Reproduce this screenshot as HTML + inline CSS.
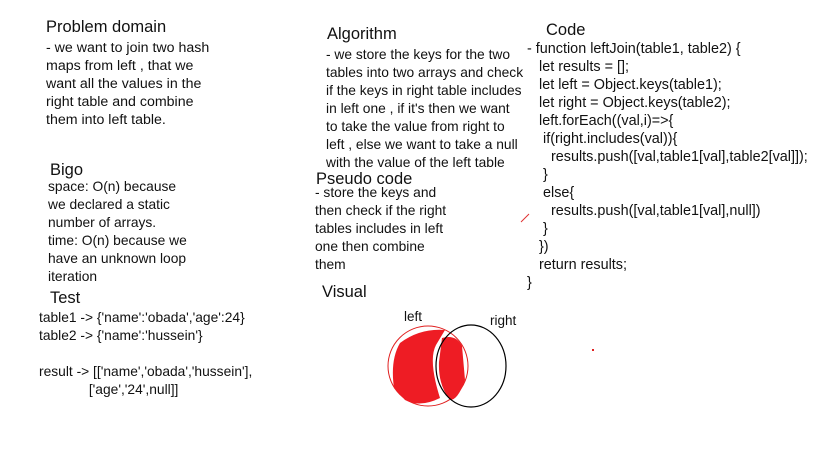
<!DOCTYPE html>
<html><head><meta charset="utf-8"><style>
body{margin:0;width:819px;height:460px;background:#fff;overflow:hidden;position:relative;font-family:"Liberation Sans",sans-serif;color:#111}
.t{position:absolute;white-space:pre;font-size:13.8px;line-height:18px}
.h{position:absolute;white-space:pre;font-size:16.5px;line-height:20px}
</style></head><body>
<div class="h" style="left:46px;top:17px">Problem domain</div>
<div class="t" style="left:46px;top:39px;font-size:14.2px">- we want to join two hash
maps from left , that we
want all the values in the
right table and combine
them into left table.</div>
<div class="h" style="left:50px;top:160px">Bigo</div>
<div class="t" style="left:48px;top:178px">space: O(n) because
we declared a static
number of arrays.
time: O(n) because we
have an unknown loop
iteration</div>
<div class="h" style="left:50px;top:288px">Test</div>
<div class="t" style="left:39px;top:309px">table1 -&gt; {'name':'obada','age':24}
table2 -&gt; {'name':'hussein'}

result -&gt; [['name','obada','hussein'],
             ['age','24',null]]</div>
<div class="h" style="left:327px;top:24px">Algorithm</div>
<div class="t" style="left:326px;top:46px">- we store the keys for the two
tables into two arrays and check
if the keys in right table includes
in left one , if it's then we want
to take the value from right to
left , else we want to take a null
with the value of the left table</div>
<div class="h" style="left:316px;top:169px">Pseudo code</div>
<div class="t" style="left:315px;top:184px">- store the keys and
then check if the right
tables includes in left
one then combine
them</div>
<div class="h" style="left:322px;top:282px">Visual</div>
<div class="h" style="left:546px;top:20px">Code</div>
<div class="t" style="left:527px;top:40px;font-size:14.4px">- function leftJoin(table1, table2) {
   let results = [];
   let left = Object.keys(table1);
   let right = Object.keys(table2);
   left.forEach((val,i)=&gt;{
    if(right.includes(val)){
      results.push([val,table1[val],table2[val]]);
    }
    else{
      results.push([val,table1[val],null])
    }
   })
   return results;
}</div>
<div class="t" style="left:404px;top:308px;font-size:13.5px">left</div>
<div class="t" style="left:490px;top:312px;font-size:13.5px">right</div>
<svg style="position:absolute;left:0;top:0" width="819" height="460">
<line x1="521" y1="222" x2="529" y2="214" stroke="#e03030" stroke-width="1"/>
<circle cx="428" cy="366" r="40" fill="none" stroke="#e02020" stroke-width="1"/>
<path d="M400 343 Q420 328 445 330 L436 345 Q428 360 440 398 Q420 408 405 400 L394 388 Q390 360 400 343Z" fill="#ee1c24"/>
<path d="M442 338 Q456 334 462 346 L465 380 Q458 400 450 400 Q438 385 439 362Z" fill="#ee1c24"/>
<ellipse cx="471" cy="366" rx="35" ry="41" fill="none" stroke="#000" stroke-width="1.2"/>
<rect x="592" y="349" width="2" height="2" fill="#e02020"/>
</svg>
</body></html>
